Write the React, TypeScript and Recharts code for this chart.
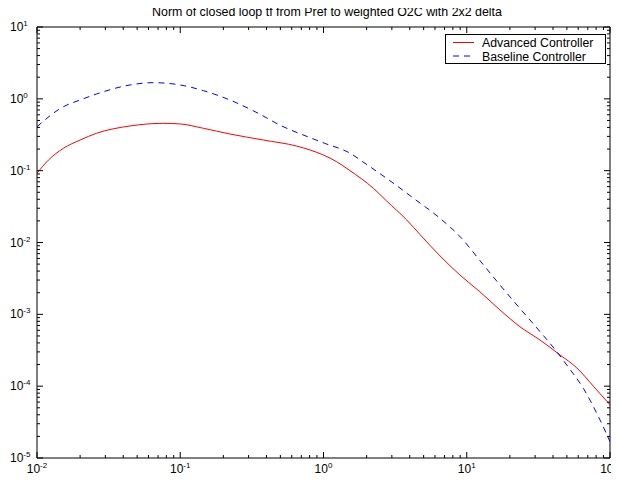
import React from 'react';
import { LineChart, Line, XAxis, YAxis } from 'recharts';

// Advanced controller
const advFreq = [0.01, 0.012, 0.0153, 0.02, 0.026, 0.0446, 0.0762, 0.1, 0.145, 0.222, 0.38, 0.65, 0.806, 1.0, 1.236, 1.51, 2.23, 2.76, 3.81, 4.72, 6.51, 8.97, 12.36, 17.06, 23.5, 32.5, 44.8, 58.6, 76.5, 100];
const advMag = [0.092, 0.14, 0.205, 0.267, 0.331, 0.419, 0.456, 0.447, 0.389, 0.324, 0.267, 0.22, 0.194, 0.165, 0.133, 0.102, 0.0568, 0.0378, 0.0206, 0.0129, 0.0065, 0.00352, 0.00206, 0.00115, 0.000673, 0.000438, 0.000272, 0.00018, 0.0001, 0.000055];

// Baseline controller
const baseFreq = [0.01, 0.0153, 0.02, 0.026, 0.0446, 0.0648, 0.1, 0.145, 0.222, 0.333, 0.511, 0.806, 1.02, 1.51, 1.95, 2.91, 4.35, 6.51, 9.22, 12.36, 17.06, 23.5, 32.5, 42.5, 49.9, 65.2, 85.1, 100];
const baseMag = [0.409, 0.778, 0.964, 1.167, 1.56, 1.68, 1.56, 1.3, 0.964, 0.662, 0.419, 0.288, 0.24, 0.178, 0.1265, 0.0724, 0.0399, 0.0217, 0.0114, 0.0056, 0.00256, 0.00121, 0.000573, 0.000302, 0.000197, 0.000093, 0.000034, 0.0000169];

const xDecades = [-2, -1, 0, 1, 2];
const yDecades = [-5, -4, -3, -2, -1, 0, 1];

const advData = advFreq.map((x, i) => ({ x, y: advMag[i] }));
const baseData = baseFreq.map((x, i) => ({ x, y: baseMag[i] }));

const logTicks = (decades: number[]) => {
  const out: number[] = [];
  decades.forEach((d, i) => {
    out.push(Math.pow(10, d));
    if (i < decades.length - 1) {
      for (let m = 2; m <= 9; m++) out.push(m * Math.pow(10, d));
    }
  });
  return out;
};
const xTicks = logTicks(xDecades);
const yTicks = logTicks(yDecades);

const isMajor = (v: number) => Math.abs(Math.log10(v) - Math.round(Math.log10(v))) < 1e-9;
const FONT = '"Liberation Sans", Arial, Helvetica, sans-serif';

const Tick = ({ x, y, payload, side }: any) => {
  const v = payload.value;
  const major = isMajor(v);
  const len = major ? 6 : 3;
  const exp = Math.round(Math.log10(v));
  let line;
  if (side === 'bottom') line = <line x1={x} y1={y} x2={x} y2={y - len} stroke="#000" />;
  else if (side === 'top') line = <line x1={x} y1={y} x2={x} y2={y + len} stroke="#000" />;
  else if (side === 'left') line = <line x1={x} y1={y} x2={x + len} y2={y} stroke="#000" />;
  else line = <line x1={x} y1={y} x2={x - len} y2={y} stroke="#000" />;
  let label = null;
  if (major && side === 'bottom') {
    // last label pinned to its right end so it stays inside the page
    const last = exp === xDecades[xDecades.length - 1];
    label = (
      <text x={last ? x + 8 : x} y={y + 15} textAnchor={last ? 'end' : 'middle'} fontFamily={FONT} fontSize={12} fill="#000">
        10<tspan dy={-5} fontSize={8}>{exp}</tspan>
      </text>
    );
  } else if (major && side === 'left') {
    label = (
      <text x={x - 27} y={y + 4} textAnchor="start" fontFamily={FONT} fontSize={12} fill="#000">
        10<tspan dy={-5} fontSize={8}>{exp}</tspan>
      </text>
    );
  }
  return (
    <g>
      {line}
      {label}
    </g>
  );
};

export default function App() {
  return (
    <div style={{ margin: -8, width: 619, height: 481, position: 'relative', background: '#fff', overflow: 'visible' }}>
      <LineChart width={619} height={481} margin={{ top: 0, right: 0, bottom: 0, left: 0 }} style={{ overflow: 'visible' }}>
        <XAxis
          xAxisId="b" dataKey="x" type="number" scale="log" domain={[0.01, 100]} allowDataOverflow
          ticks={xTicks} interval={0} height={23} tickSize={0} tickMargin={0} tickLine={false}
          axisLine={{ stroke: '#000' }} tick={<Tick side="bottom" />} orientation="bottom"
        />
        <XAxis
          xAxisId="t" dataKey="x" type="number" scale="log" domain={[0.01, 100]} allowDataOverflow
          ticks={xTicks} interval={0} height={27} tickSize={0} tickMargin={0} tickLine={false}
          axisLine={{ stroke: '#000' }} tick={<Tick side="top" />} orientation="top"
        />
        <YAxis
          yAxisId="l" dataKey="y" type="number" scale="log" domain={[1e-5, 10]} allowDataOverflow
          ticks={yTicks} interval={0} width={37} tickSize={0} tickMargin={0} tickLine={false}
          axisLine={{ stroke: '#000' }} tick={<Tick side="left" />} orientation="left"
        />
        <YAxis
          yAxisId="r" dataKey="y" type="number" scale="log" domain={[1e-5, 10]} allowDataOverflow
          ticks={yTicks} interval={0} width={9} tickSize={0} tickMargin={0} tickLine={false}
          axisLine={{ stroke: '#000' }} tick={<Tick side="right" />} orientation="right"
        />
        <Line
          xAxisId="b" yAxisId="l" data={advData} dataKey="y" type="monotone" stroke="#ff0000"
          strokeWidth={1} dot={false} isAnimationActive={false}
        />
        <Line
          xAxisId="t" yAxisId="r" data={baseData} dataKey="y" type="monotone" stroke="#0000ff"
          strokeWidth={1} strokeDasharray="6 5" dot={false} isAnimationActive={false}
        />
      </LineChart>
      <svg width={619} height={22} style={{ position: 'absolute', left: 0, top: 0, zIndex: 2 }}>
        <text x={327} y={16} textAnchor="middle" fontFamily={FONT} fontSize={12.4} fill="#000">
          Norm of closed loop tf from Pref to weighted O2C with 2x2 delta
        </text>
      </svg>
      <div
        style={{
          position: 'absolute', left: 445, top: 34, width: 161, height: 30, boxSizing: 'border-box', zIndex: 2,
          border: '1px solid #000', background: '#fff',
        }}
      >
        <svg width={159} height={28} style={{ position: 'absolute', left: 0, top: 0 }}>
          <line x1={7} y1={7.5} x2={28} y2={7.5} stroke="#ff0000" />
          <line x1={7} y1={21} x2={28} y2={21} stroke="#0000ff" strokeDasharray="6 5" />
          <text x={36} y={12} fontFamily={FONT} fontSize={12.3} fill="#000">Advanced Controller</text>
          <text x={36} y={25.5} fontFamily={FONT} fontSize={12.3} fill="#000">Baseline Controller</text>
        </svg>
      </div>
    </div>
  );
}
